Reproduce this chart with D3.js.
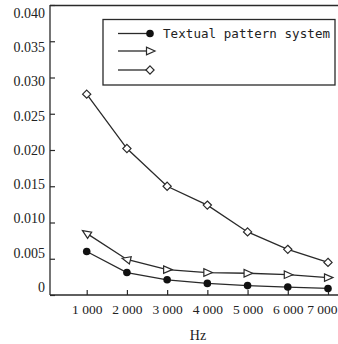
<!DOCTYPE html>
<html><head><meta charset="utf-8">
<script src="https://cdn.jsdelivr.net/npm/d3@7"></script>
<style>body{margin:0;background:#fff}svg{display:block}</style>
</head><body>
<script>
const freqs = [1000, 2000, 3000, 4000, 5000, 6000, 7000];
const seriesCircle = [0.0060, 0.0031, 0.0021, 0.0016, 0.0013, 0.0011, 0.0009];
const seriesTriangle = [0.0085, 0.0049, 0.0035, 0.0031, 0.0030, 0.0028, 0.0024];
const seriesDiamond = [0.0277, 0.0202, 0.0150, 0.0124, 0.0087, 0.0063, 0.0045];
const yTicks = [0, 0.005, 0.010, 0.015, 0.020, 0.025, 0.030, 0.035, 0.040];
const legendLabels = ["Textual pattern system", "", ""];
const xTitle = "Hz";

(function () {
const W = 338, H = 344;
const svg = d3.select("body").append("svg").attr("width", W).attr("height", H);
const pL = 50, pR = 338, pT = 5, pB = 295;
const x = d3.scaleLinear().domain([1000, 7000]).range([86.7, 328]);
const y = d3.scaleLinear().domain([0, 0.04]).range([pB, pT]);
const ink = "#2a2a2a";
const serif = "'Liberation Serif', 'Times New Roman', serif";

// frame
svg.append("line").attr("x1", pL).attr("x2", pR).attr("y1", pT + 0.5).attr("y2", pT + 0.5).attr("stroke", ink).attr("stroke-width", 1.3);
svg.append("line").attr("x1", pL).attr("x2", pR).attr("y1", pB).attr("y2", pB).attr("stroke", ink).attr("stroke-width", 1.3);
svg.append("line").attr("x1", pL).attr("x2", pL).attr("y1", pT).attr("y2", pB).attr("stroke", ink).attr("stroke-width", 1.3);

const yAxis = svg.append("g").attr("transform", `translate(${pL},0)`)
  .call(d3.axisLeft(y).tickValues(yTicks).tickSize(-5).tickPadding(5)
    .tickFormat(d => d === 0 ? "0" : d3.format(".3f")(d)));
yAxis.select(".domain").remove();
yAxis.selectAll("line").attr("stroke", ink).attr("stroke-width", 1.2);
// labels in the reference sit on a slightly compressed grid relative to the ticks
yAxis.selectAll(".tick text").attr("font-family", serif).attr("font-size", 14).attr("fill", "#222")
  .attr("y", d => -8 + 16 * d / 0.04);

const xAxis = svg.append("g").attr("transform", `translate(0,${pB})`)
  .call(d3.axisBottom(x).tickValues(freqs).tickSize(-5).tickPadding(9)
    .tickFormat(d => d3.format(",")(d).replace(",", " ")));
xAxis.select(".domain").remove();
xAxis.selectAll("line").attr("stroke", ink).attr("stroke-width", 1.2);
xAxis.selectAll("text").attr("font-family", serif).attr("font-size", 13.5).attr("fill", "#222")
  .each(function (d) {
    const w = this.getComputedTextLength();
    const over = x(d) + w / 2 - (W - 1);
    if (over > 0) d3.select(this).attr("x", -over);
  });

svg.append("text").attr("x", 198).attr("y", 340).attr("text-anchor", "middle")
  .attr("font-family", serif).attr("font-size", 14).attr("fill", "#222").text(xTitle);

const line = d3.line().x(d => x(d[0])).y(d => y(d[1]));
const allSeries = [seriesCircle, seriesTriangle, seriesDiamond];
allSeries.forEach(s => {
  svg.append("path").datum(freqs.map((f, i) => [f, s[i]])).attr("d", line)
    .attr("fill", "none").attr("stroke", ink).attr("stroke-width", 1.3);
});

function triPath(sz) { return `M${sz},0L${-sz * 0.7},${-sz * 0.75}L${-sz * 0.7},${sz * 0.75}Z`; }
function drawMarker(g, type, cx, cy, angle) {
  if (type === 0) {
    g.append("circle").attr("cx", cx).attr("cy", cy).attr("r", 3.8).attr("fill", "#111");
  } else if (type === 1) {
    g.append("path").attr("d", triPath(5)).attr("transform", `translate(${cx},${cy}) rotate(${angle})`)
      .attr("fill", "#fff").attr("stroke", ink).attr("stroke-width", 1.2);
  } else {
    g.append("path").attr("d", "M0,-4.1L4.1,0L0,4.1L-4.1,0Z").attr("transform", `translate(${cx},${cy})`)
      .attr("fill", "#fff").attr("stroke", ink).attr("stroke-width", 1.2);
  }
}
const mg = svg.append("g");
allSeries.forEach((s, k) => {
  freqs.forEach((f, i) => {
    let ang = 0;
    if (k === 1 && i < 2) {
      const j = i + 1;
      ang = Math.atan2(y(s[i]) - y(s[j]), x(f) - x(freqs[j])) * 180 / Math.PI;
    }
    drawMarker(mg, k, x(f), y(s[i]), ang);
  });
});

// legend
const lg = svg.append("g");
lg.append("rect").attr("x", 103).attr("y", 19.5).attr("width", 232).attr("height", 65.5)
  .attr("fill", "#fff").attr("stroke", ink).attr("stroke-width", 1.3);
const rowsY = [33.5, 51, 70];
rowsY.forEach((ry, k) => {
  lg.append("line").attr("x1", 118).attr("x2", 150).attr("y1", ry).attr("y2", ry).attr("stroke", ink).attr("stroke-width", 1.3);
  drawMarker(lg, k, 150, ry, 0);
  if (legendLabels[k]) {
    lg.append("text").attr("x", 163).attr("y", ry + 4.5).attr("font-family", "'DejaVu Sans Mono', monospace")
      .attr("font-size", 12.5).attr("fill", "#222").attr("textLength", 167).text(legendLabels[k]);
  }
});
})();
</script>
</body></html>
